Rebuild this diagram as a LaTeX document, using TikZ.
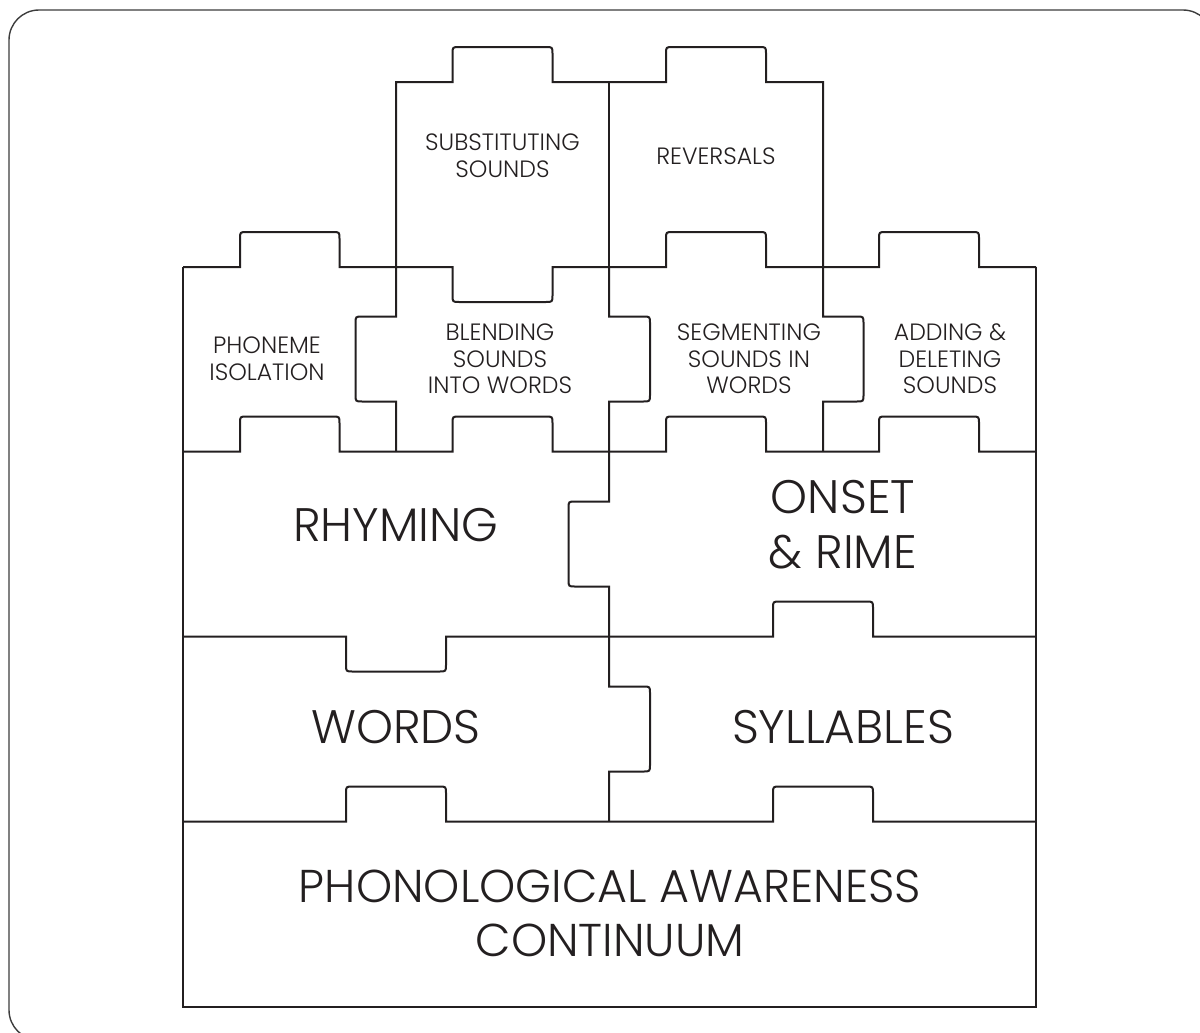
\documentclass[tikz,border=0pt]{standalone}
\usepackage{fontspec}
\setmainfont{Poppins}[UprightFont=* Light]
\usepackage{tikz}
\usepackage{color}

\definecolor{ink}{HTML}{231F20}
\definecolor{framegray}{HTML}{3C3C3C}

\tikzset{
  piece/.style={draw=ink, line width=1pt},
  htab/.style n args={4}{insert path={-- (#1,#3) -- (#1,{#4+7*sign(#3-#4)}) .. controls (#1,#4) .. ({#1+7},#4) -- ({#2-7},#4) .. controls (#2,#4) .. (#2,{#4+7*sign(#3-#4)}) -- (#2,#3)}},
  vtab/.style n args={4}{insert path={-- (#3,#1) -- ({#4+7*sign(#3-#4)},#1) .. controls (#4,#1) .. (#4,{#1+7}) -- (#4,{#2-7}) .. controls (#4,#2) .. ({#4+7*sign(#3-#4)},#2) -- (#3,#2)}},
  small/.style={font=\fontsize{11.8}{13.3}\selectfont, align=center, text=ink},
  big/.style={font=\fontsize{23.5}{27.5}\selectfont, align=center, text=ink},
}

\begin{document}
\begin{tikzpicture}[x=0.5pt, y=-0.5pt, line join=miter]
    \useasboundingbox (0,0) rectangle (1200,1033);
    \clip (0,0) rectangle (1200,1033);
    \draw[framegray, line width=0.7pt, rounded corners=15pt] (9,10) rectangle (1213,1040);

    % top row
    \draw[piece] (396,267) -- (396,82) [htab={452.5}{552.5}{82}{47}] [htab={666}{766}{82}{47}] -- (823,82) -- (823,267);
    \draw[piece] (609,82) -- (609,267);
    % second row
    \draw[piece] (183,267) [htab={240}{339.5}{267}{232}] [htab={452.5}{552.5}{267}{302}] [htab={666}{766}{267}{232}] [htab={879}{979}{267}{232}] -- (1036,267);
    \draw[piece] (183,267) -- (183,1006.5) -- (1036,1006.5) -- (1036,267);
    \draw[piece] (396,267) [vtab={316.5}{401.5}{396}{355.5}] -- (396,451.5);
    \draw[piece] (823,267) [vtab={316.5}{401.5}{823}{863.5}] -- (823,451.5);
    \draw[piece] (609,267) [vtab={316.5}{401.5}{609}{650}] [vtab={501.5}{586.5}{609}{568.5}] [vtab={686.5}{771.5}{609}{650}] -- (609,821.5);
    % lower rows
    \draw[piece] (183,451.5) [htab={240}{339.5}{451.5}{416.5}] [htab={452.5}{552.5}{451.5}{416.5}] [htab={666}{766}{451.5}{416.5}] [htab={879}{979}{451.5}{416.5}] -- (1036,451.5);
    \draw[piece] (183,636.5) [htab={346}{446}{636.5}{671.5}] [htab={773}{873}{636.5}{601.5}] -- (1036,636.5);
    \draw[piece] (183,821.5) [htab={346}{446}{821.5}{786.5}] [htab={773}{873}{821.5}{786.5}] -- (1036,821.5);

    \node[small] (subst) at (502.5,156) {SUBSTITUTING\\SOUNDS};
    \node[small] (revers) at (716,156) {REVERSALS};
    \node[small] (isolat) at (267,359) {PHONEME\\ISOLATION};
    \node[small] (blend) at (500,359) {BLENDING\\SOUNDS\\INTO WORDS};
    \node[small] (segment) at (749,359) {SEGMENTING\\SOUNDS IN\\WORDS};
    \node[small] (adddel) at (950,359) {ADDING \&\\DELETING\\SOUNDS};
    \node[big] (rhyme) at (396,525) {RHYMING};
    \node[big] (onset) at (843,525) {ONSET\\\& RIME};
    \node[big] (words) at (396,727) {WORDS};
    \node[big] (syllab) at (843,727) {SYLLABLES};
    \node[big, font=\fontsize{23}{27}\selectfont] (contin) at (610,913) {PHONOLOGICAL AWARENESS\\CONTINUUM};
\end{tikzpicture}
\end{document}
